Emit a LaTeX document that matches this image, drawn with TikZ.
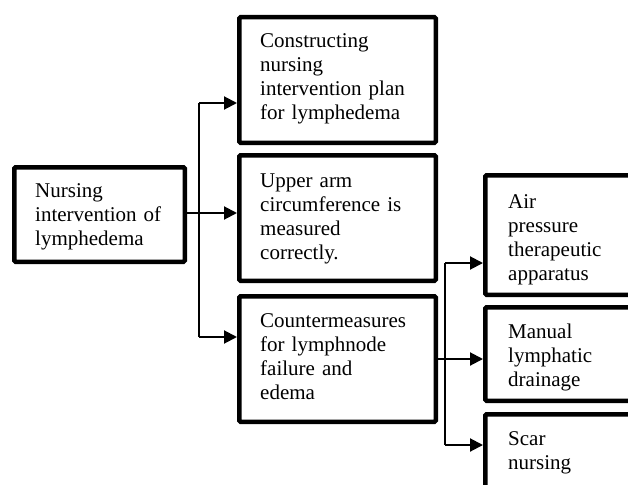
\documentclass[tikz,border=0pt]{standalone}
\usepackage{fontspec}
\setmainfont{Liberation Serif}
\usetikzlibrary{arrows.meta}
\tikzset{
  boxnode/.style={draw=black, line width=4.5pt, inner sep=0pt, rounded corners=1.2pt, anchor=north west},
  txt/.style={anchor=base west, inner sep=0pt, text width=190pt, align=left,
    font=\fontsize{21}{24}\selectfont},
  conn/.style={draw=black, line width=2pt},
  arr/.style={conn, -{Triangle[length=13pt,width=13pt]}}
}
\begin{document}
\begin{tikzpicture}[x=1pt,y=-1pt]
\useasboundingbox (0,0) rectangle (628,484);
% boxes
\node[boxnode, minimum width=170.5pt, minimum height=94.5pt] (L) at (12,165) {};
\node[boxnode, minimum width=196.5pt, minimum height=125.5pt] (A) at (237,15) {};
\node[boxnode, minimum width=196.5pt, minimum height=125.5pt] (B) at (237,153) {};
\node[boxnode, minimum width=196.5pt, minimum height=125.5pt] (C) at (237,294) {};
\node[boxnode, minimum width=162.5pt, minimum height=119.5pt] (R1) at (483,173) {};
\node[boxnode, minimum width=162.5pt, minimum height=93.5pt] (R2) at (483,305) {};
\node[boxnode, minimum width=162.5pt, minimum height=95.5pt] (R3) at (483,412) {};
% texts
\node[txt] (Lt) at (35,197) {Nursing\\intervention of\\lymphedema};
\node[txt] (At) at (260,48) {Constructing\\nursing\\intervention plan\\for lymphedema};
\node[txt] (Bt) at (260,187) {Upper arm\\circumference is\\measured\\correctly.};
\node[txt] (Ct) at (260,327) {Countermeasures\\for lymphnode\\failure and\\edema};
\node[txt] (R1t) at (508,208) {Air\\pressure\\therapeutic\\apparatus};
\node[txt] (R2t) at (508,338) {Manual\\lymphatic\\drainage};
\node[txt] (R3t) at (508,445) {Scar\\nursing};
% first-level connectors
\coordinate (j1a) at (199,103);
\coordinate (j1b) at (199,213);
\coordinate (j1c) at (199,337);
\draw[conn] (j1a) -- (j1c);
\draw[arr] (j1a) -- (j1a -| A.west);
\draw[arr] (L.east |- j1b) -- (j1b -| B.west);
\draw[arr] (j1c) -- (j1c -| C.west);
% second-level connectors
\coordinate (j2a) at (445,263);
\coordinate (j2b) at (445,359);
\coordinate (j2c) at (445,445);
\draw[conn] (j2a) -- (j2c);
\draw[arr] (j2a) -- (j2a -| R1.west);
\draw[arr] (C.east |- j2b) -- (j2b -| R2.west);
\draw[arr] (j2c) -- (j2c -| R3.west);
\end{tikzpicture}
\end{document}
